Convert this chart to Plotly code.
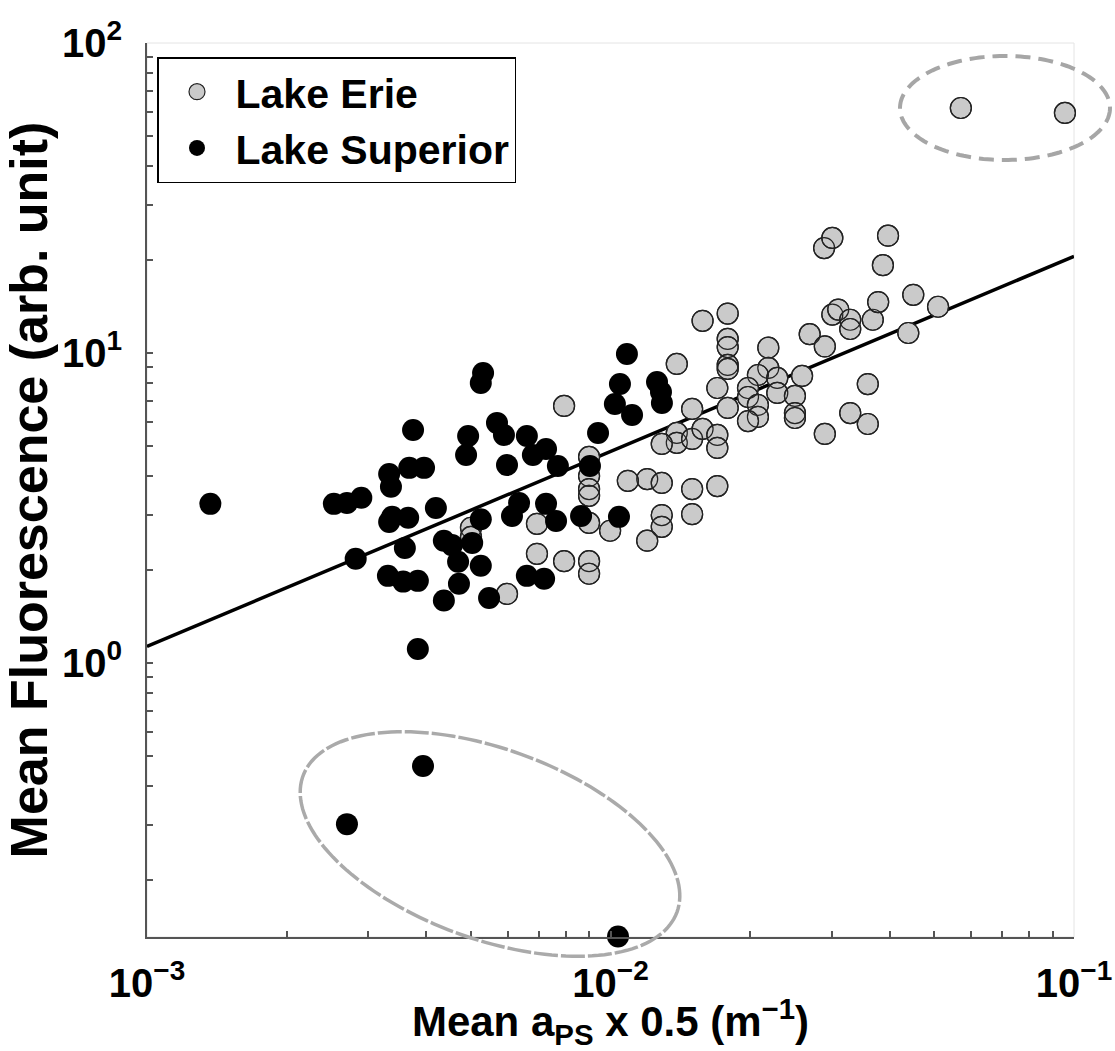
import numpy as np
import plotly.graph_objects as go

# ---------------- data ----------------
erie_x = [0.0570, 0.0956, 0.0289, 0.0301, 0.0397, 0.0387, 0.0158, 0.0179, 0.0179, 0.0179,
          0.0179, 0.0179, 0.0139, 0.0219, 0.0219, 0.0208, 0.0229, 0.0259, 0.0170, 0.0198,
          0.0198, 0.0229, 0.0250, 0.0208, 0.0208, 0.0198, 0.0250, 0.0250, 0.0179, 0.0150,
          0.0139, 0.0139, 0.0129, 0.0150, 0.0158, 0.0170, 0.0170, 0.0269, 0.0290, 0.0301,
          0.0310, 0.0329, 0.0329, 0.0368, 0.0378, 0.0450, 0.0509, 0.0439, 0.0359, 0.0329,
          0.0359, 0.0290, 0.0120, 0.0129, 0.0150, 0.0170, 0.0109, 0.00794, 0.00899, 0.00899,
          0.00899, 0.00899, 0.0129, 0.0129, 0.0150, 0.0120, 0.00998, 0.00899, 0.00794, 0.00899,
          0.00899, 0.00694, 0.00694, 0.00500, 0.00500, 0.00598]
erie_y = [61.7, 59.5, 21.8, 23.5, 23.9, 19.2, 12.7, 13.4, 11.1, 10.45,
          9.15, 8.88, 9.22, 10.4, 8.95, 8.49, 8.31, 8.43, 7.71, 7.71,
          7.21, 7.43, 7.27, 6.80, 6.22, 6.03, 6.40, 6.17, 6.65, 6.60,
          5.52, 5.13, 5.09, 5.28, 5.69, 5.44, 4.94, 11.5, 10.5, 13.3,
          13.8, 12.8, 11.95, 12.8, 14.6, 15.4, 14.1, 11.6, 7.94, 6.40,
          5.90, 5.48, 3.92, 3.81, 3.64, 3.72, 3.87, 6.75, 4.62, 4.01,
          3.64, 3.46, 3.00, 2.75, 3.02, 2.48, 2.67, 2.83, 2.13, 2.13,
          1.94, 2.81, 2.25, 2.73, 2.55, 1.67]

sup_x = [0.00137, 0.00531, 0.00525, 0.01085, 0.01048, 0.01022, 0.01113, 0.01260, 0.01285, 0.01291,
         0.00375, 0.00493, 0.00488, 0.00569, 0.00589, 0.00660, 0.00726, 0.00680, 0.00598, 0.00770,
         0.00333, 0.00336, 0.00368, 0.00396, 0.00253, 0.00270, 0.00290, 0.00420, 0.00338, 0.00333,
         0.00366, 0.00635, 0.00726, 0.00613, 0.00525, 0.00763, 0.00940, 0.00903, 0.00864, 0.01043,
         0.00360, 0.00282, 0.00437, 0.00455, 0.00503, 0.00469, 0.00525, 0.00331, 0.00357, 0.00384,
         0.00471, 0.00437, 0.00547, 0.00660, 0.00719, 0.00384, 0.00394, 0.00270, 0.01038]
sup_y = [3.26, 8.62, 8.00, 9.93, 7.94, 6.85, 6.31, 8.06, 7.48, 6.90,
         5.64, 5.40, 4.69, 5.95, 5.44, 5.40, 4.90, 4.69, 4.35, 4.32,
         4.07, 3.70, 4.26, 4.26, 3.26, 3.28, 3.41, 3.16, 2.96, 2.85,
         2.94, 3.28, 3.26, 2.98, 2.91, 2.87, 5.52, 4.32, 2.98, 2.96,
         2.35, 2.17, 2.48, 2.40, 2.44, 2.12, 2.06, 1.91, 1.83, 1.84,
         1.80, 1.59, 1.62, 1.91, 1.87, 1.11, 0.465, 0.302, 0.131]

fit_x = [0.001, 0.1]
fit_y = [1.13, 20.5]

x_tick_vals = [0.001, 0.01, 0.1]
x_tick_text = ["10<sup>\u22123</sup>", "10<sup>\u22122</sup>", "10<sup>\u22121</sup>"]
y_tick_vals = [1, 10, 100]
y_tick_text = ["10<sup>0</sup>", "10<sup>1</sup>", "10<sup>2</sup>"]
x_minor = [k * 10.0 ** e for e in (-3, -2) for k in range(2, 10)]
y_minor = [k * 10.0 ** e for e in (-1, 0, 1) for k in range(2, 10)]

# ---------------- layout geometry ----------------
W, H = 1115, 1051
L, R, T, B = 147, 41, 43, 114
PW, PH = W - L - R, H - T - B

def ellipse_path(cx, cy, a, b, theta_deg, n=160):
    t = np.linspace(0, 2 * np.pi, n)
    th = np.radians(theta_deg)
    px = cx + a * np.cos(t) * np.cos(th) - b * np.sin(t) * np.sin(th)
    py = cy + a * np.cos(t) * np.sin(th) + b * np.sin(t) * np.cos(th)
    fx = (px - L) / PW
    fy = (T + PH - py) / PH
    pts = ["%s%.5f,%.5f" % ("M" if i == 0 else "L", x, y) for i, (x, y) in enumerate(zip(fx, fy))]
    return " ".join(pts) + " Z"

FONT = "Liberation Sans"

fig = go.Figure()

fig.add_trace(go.Scatter(
    x=fit_x, y=fit_y, mode="lines", line=dict(color="black", width=3.5),
    showlegend=False, hoverinfo="skip"))

fig.add_trace(go.Scatter(
    x=erie_x, y=erie_y, mode="markers", name="Lake Erie", legendgroup="erie",
    marker=dict(size=21, color="rgb(202,202,202)", line=dict(color="rgb(35,35,35)", width=1.2)),
    cliponaxis=False))
fig.add_trace(go.Scatter(
    x=erie_x, y=erie_y, mode="markers", name="Lake Erie", legendgroup="erie", showlegend=False,
    marker=dict(size=21, color="rgba(0,0,0,0)", line=dict(color="rgb(35,35,35)", width=1.2)),
    cliponaxis=False, hoverinfo="skip"))
fig.add_trace(go.Scatter(
    x=sup_x, y=sup_y, mode="markers", name="Lake Superior", legendgroup="sup",
    marker=dict(size=22, color="black", line=dict(width=0)),
    cliponaxis=False))

axis_common = dict(
    type="log", showline=True, linecolor="#555555", linewidth=2,
    ticks="inside", ticklen=6, tickwidth=1.5, tickcolor="#555555",
    showgrid=False, zeroline=False, tickmode="array",
    tickfont=dict(size=40, family=FONT, weight="bold", color="black"),
)

fig.update_xaxes(
    **axis_common, range=[-3, -1], tickvals=x_tick_vals, ticktext=x_tick_text,
    minor=dict(tickmode="array", tickvals=x_minor, ticks="inside", ticklen=6,
               tickcolor="#555555", tickwidth=1.5, showgrid=False),
    ticklabelstandoff=10,
    title=dict(text="Mean a<sub>PS</sub> x 0.5 (m<sup>\u22121</sup>)",
               font=dict(size=42, family=FONT, weight="bold", color="black"),
               standoff=2))
fig.update_yaxes(
    **axis_common, range=[np.log10(0.1306), 2], tickvals=y_tick_vals, ticktext=y_tick_text,
    minor=dict(tickmode="array", tickvals=y_minor, ticks="inside", ticklen=6,
               tickcolor="#555555", tickwidth=1.5, showgrid=False),
    ticklabelstandoff=15,
    title=dict(text="Mean Fluorescence (arb. unit)",
               font=dict(size=52, family=FONT, weight="bold", color="black"),
               standoff=8))

fig.update_layout(
    width=W, height=H, margin=dict(l=L, r=R, t=T, b=B, autoexpand=False),
    plot_bgcolor="white", paper_bgcolor="white",
    font=dict(family=FONT, size=40, color="black", weight="bold"),
    legend=dict(x=(157 - L) / PW, y=(T + PH - 57) / PH, xanchor="left", yanchor="top",
                bgcolor="white", bordercolor="black", borderwidth=1.5,
                font=dict(size=41, family=FONT, weight="bold", color="black"),
                tracegroupgap=0, itemwidth=67),
    shapes=[
        dict(type="rect", xref="paper", yref="paper", x0=0, y0=0, x1=1, y1=1,
             line=dict(color="#e4e4e4", width=1), layer="below"),
        dict(type="path", xref="paper", yref="paper",
             path=ellipse_path(1005, 108, 105, 52, 0),
             line=dict(color="#a6a6a6", width=4, dash="15px,8px")),
        dict(type="path", xref="paper", yref="paper",
             path=ellipse_path(490, 844, 199, 95, 20),
             line=dict(color="#aaaaaa", width=3.5, dash="24px,3px")),
    ],
)

fig.write_html("out.html")
